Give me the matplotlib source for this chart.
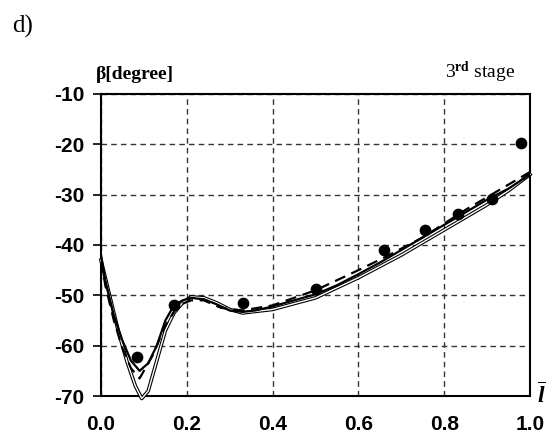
import numpy as np
import matplotlib.pyplot as plt

plt.rcParams['mathtext.fontset'] = 'custom'
plt.rcParams['mathtext.rm'] = 'Liberation Serif'
plt.rcParams['mathtext.it'] = 'Liberation Serif:italic:bold'
plt.rcParams['mathtext.bf'] = 'Liberation Serif:bold'

# measured points
x_pts = [0.083, 0.169, 0.330, 0.501, 0.660, 0.755, 0.833, 0.912, 0.978]
y_pts = [-62.3, -52.0, -51.6, -48.7, -40.9, -37.0, -33.8, -30.8, -19.7]

# solid curve
x_solid = [0.0, 0.01, 0.03, 0.05, 0.07, 0.09, 0.11, 0.13, 0.15, 0.17, 0.19, 0.21,
           0.24, 0.27, 0.30, 0.33, 0.36, 0.40, 0.45, 0.50, 0.55, 0.60, 0.65, 0.70,
           0.75, 0.80, 0.85, 0.90, 0.95, 1.0]
y_solid = [-42, -47, -54, -59, -63, -65, -63.5, -60, -55, -52, -51, -50.5,
           -50.8, -51.8, -53, -53.3, -53, -52.2, -51, -49.8, -48, -45.8, -43.5, -41,
           -38.5, -36, -33.5, -31, -28.8, -26]

# dashed curve
x_dash = [0.0, 0.01, 0.03, 0.05, 0.07, 0.09, 0.12, 0.15, 0.18, 0.21, 0.24, 0.28,
          0.33, 0.40, 0.50, 0.60, 0.66, 0.75, 0.85, 0.90, 0.95, 1.0]
y_dash = [-43, -48, -55, -60.5, -64.5, -66.5, -62, -56, -52, -51, -51, -52.5,
          -53, -52, -49, -45, -42.5, -38.5, -33, -30.5, -28, -25.5]

# thin double-line curve
x_thin = [0.0, 0.02, 0.04, 0.06, 0.08, 0.095, 0.11, 0.13, 0.15, 0.17, 0.19, 0.21,
          0.24, 0.27, 0.30, 0.33, 0.40, 0.50, 0.60, 0.70, 0.80, 0.90, 0.95, 1.0]
y_thin = [-43, -50, -57, -63, -68, -70.5, -69, -63, -57, -53.5, -51.5, -50.3,
          -50.5, -51.5, -52.8, -53.5, -52.8, -50.5, -46.5, -42, -37, -32, -29.2, -26]

xticks = [0.0, 0.2, 0.4, 0.6, 0.8, 1.0]
yticks = [-10, -20, -30, -40, -50, -60, -70]

fig = plt.figure(figsize=(5.51, 4.41), dpi=100)
ax = fig.add_axes([0.1833, 0.102, 0.7786, 0.685])

ax.plot(x_thin, y_thin, color='black', lw=2.6, zorder=3, clip_on=False)
ax.plot(x_thin, y_thin, color='white', lw=1.0, zorder=3.1, clip_on=False)
ax.plot(x_solid, y_solid, color='black', lw=1.6, zorder=4)
ax.plot(x_dash, y_dash, color='black', lw=1.6, ls=(0, (5, 3)), zorder=4)
ax.scatter(x_pts, y_pts, s=55, color='black', zorder=5)

ax.set_xlim(0, 1)
ax.set_ylim(-70, -10)
ax.set_xticks(xticks)
ax.set_yticks(yticks)
ax.set_xticklabels([f'{v:.1f}' for v in xticks], fontsize=15, fontweight='bold',
                   family='Liberation Sans')
ax.set_yticklabels([str(v) for v in yticks], fontsize=15, fontweight='bold',
                   family='Liberation Sans')
ax.tick_params(axis='y', direction='out', length=6, width=1.2, pad=6)
ax.tick_params(axis='x', direction='in', length=0, pad=14)
ax.grid(True, color='#333333', lw=1.0, ls=(0, (4, 3)))
for s in ax.spines.values():
    s.set_linewidth(1.5)

fig.text(0.022, 0.925, 'd)', fontsize=18, family='Liberation Serif')
ax.text(-0.012, 1.035, 'β[degree]', transform=ax.transAxes, fontsize=14,
        fontweight='bold', family='Liberation Serif', ha='left', va='bottom')
ax.text(0.965, 1.03, '3$^{\\mathbf{rd}}$ stage', transform=ax.transAxes, fontsize=14,
        family='Liberation Serif', ha='right', va='bottom')
ax.text(1.026, 0.0, '$\\overline{l}$', transform=ax.transAxes, fontsize=17,
        ha='center', va='center')

fig.savefig('out.png', dpi=100)
